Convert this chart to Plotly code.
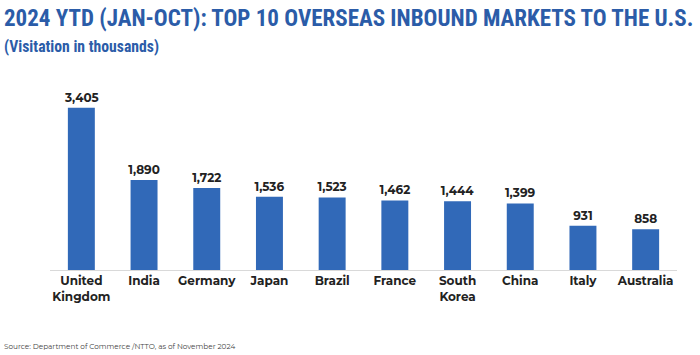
import plotly.graph_objects as go

categories = ["United<br>Kingdom", "India", "Germany", "Japan", "Brazil", "France",
              "South<br>Korea", "China", "Italy", "Australia"]
values = [3405, 1890, 1722, 1536, 1523, 1462, 1444, 1399, 931, 858]
value_labels = [f"{v:,}" for v in values]

title_text = "2024 YTD (JAN-OCT): TOP 10 OVERSEAS INBOUND MARKETS TO THE U.S."
subtitle_text = "(Visitation in thousands)"
source_text = "Source: Department of Commerce /NTTO, as of November 2024"

body = "Montserrat, Lato, Open Sans, sans-serif"
cond = "Roboto Condensed, Liberation Sans Narrow, sans-serif"

fig = go.Figure(go.Bar(
    x=categories, y=values,
    marker=dict(color="#3169b8", line=dict(width=0)),
    text=value_labels, textposition="outside", constraintext="none",
    textfont=dict(family=body, size=12, color="#222222", weight="bold"),
    cliponaxis=False,
))

fig.update_layout(
    width=700, height=355,
    margin=dict(l=50, r=23, t=80, b=85),
    paper_bgcolor="white", plot_bgcolor="white",
    bargap=0.57,
    showlegend=False,
    xaxis=dict(showline=True, linecolor="#d9d9d9", linewidth=1, ticks="",
               tickfont=dict(family=body, size=12, color="#222222", weight="bold")),
    yaxis=dict(range=[0, 3990], visible=False, showgrid=False),
    annotations=[
        dict(text=title_text, x=0, y=1, xref="paper", yref="paper", xanchor="left", yanchor="top",
             xshift=-48, yshift=77, showarrow=False,
             font=dict(family=cond, size=23, color="#2b5ca8", weight="bold")),
        dict(text=subtitle_text, x=0, y=1, xref="paper", yref="paper", xanchor="left", yanchor="top",
             xshift=-48, yshift=45, showarrow=False,
             font=dict(family=cond, size=15.7, color="#2b5ca8", weight="bold")),
        dict(text=source_text, x=0, y=0, xref="paper", yref="paper", xanchor="left", yanchor="bottom",
             xshift=-48, yshift=-83, showarrow=False,
             font=dict(family=body, size=7.3, color="#444444")),
    ],
)

fig.write_html("out.html", config={"displayModeBar": False},
               post_script="document.body.style.margin='0';")
